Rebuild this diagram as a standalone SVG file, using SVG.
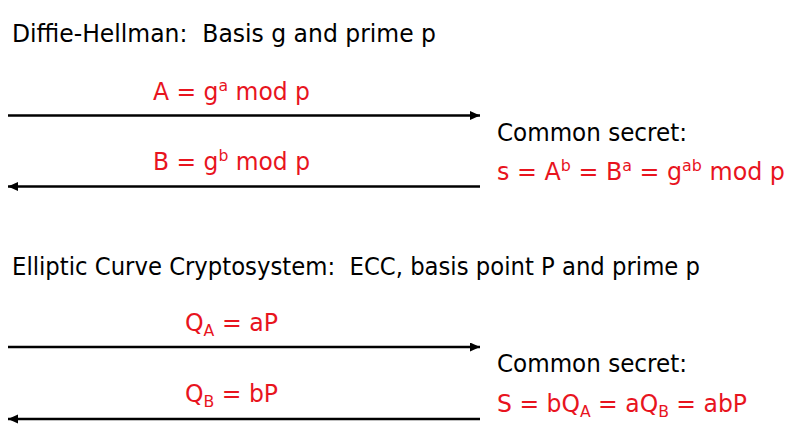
<svg xmlns="http://www.w3.org/2000/svg" width="794" height="435" viewBox="0 0 794 435">
<style>
text{font-family:"DejaVu Sans","Liberation Sans",sans-serif;font-size:24px;}
.k{fill:#000;}
.r{fill:#e8141e;}
.s{font-size:16px;}
.conn{stroke:#000;stroke-width:2.3;fill:none;}
</style>
<defs>
<marker id="ah" markerUnits="userSpaceOnUse" markerWidth="12" markerHeight="10" refX="10" refY="4.5" orient="auto">
<path d="M0,0 L10,4.5 L0,9 Z" fill="#000"/>
</marker>
</defs>
<rect width="794" height="435" fill="#fff"/>
<g id="title-dh"><text class="k" x="12" y="42" textLength="424" lengthAdjust="spacingAndGlyphs" xml:space="preserve">Diffie-Hellman:  Basis g and prime p</text></g>
<g id="label-A"><text class="r" x="153" y="100" textLength="157" lengthAdjust="spacingAndGlyphs">A = g<tspan class="s" dy="-9">a</tspan><tspan dy="9"> mod p</tspan></text></g>
<g id="label-B"><text class="r" x="153" y="170" textLength="157" lengthAdjust="spacingAndGlyphs">B = g<tspan class="s" dy="-9">b</tspan><tspan dy="9"> mod p</tspan></text></g>
<g id="secret-dh">
<text class="k" x="497" y="141" textLength="190" lengthAdjust="spacingAndGlyphs">Common secret:</text>
<text class="r" x="497" y="180" textLength="288" lengthAdjust="spacingAndGlyphs">s = A<tspan class="s" dy="-9">b</tspan><tspan dy="9"> = B</tspan><tspan class="s" dy="-9">a</tspan><tspan dy="9"> = g</tspan><tspan class="s" dy="-9">ab</tspan><tspan dy="9"> mod p</tspan></text>
</g>
<g id="title-ecc"><text class="k" x="12" y="275" textLength="688" lengthAdjust="spacingAndGlyphs" xml:space="preserve">Elliptic Curve Cryptosystem:  ECC, basis point P and prime p</text></g>
<g id="label-QA"><text class="r" x="185" y="331" textLength="93" lengthAdjust="spacingAndGlyphs">Q<tspan class="s" dy="5">A</tspan><tspan dy="-5"> = aP</tspan></text></g>
<g id="label-QB"><text class="r" x="185" y="402" textLength="93" lengthAdjust="spacingAndGlyphs">Q<tspan class="s" dy="5">B</tspan><tspan dy="-5"> = bP</tspan></text></g>
<g id="secret-ecc">
<text class="k" x="497" y="372" textLength="190" lengthAdjust="spacingAndGlyphs">Common secret:</text>
<text class="r" x="497" y="412" textLength="250" lengthAdjust="spacingAndGlyphs">S = bQ<tspan class="s" dy="5">A</tspan><tspan dy="-5"> = aQ</tspan><tspan class="s" dy="5">B</tspan><tspan dy="-5"> = abP</tspan></text>
</g>
<g id="connectors">
<line class="conn" x1="8" y1="115.5" x2="480" y2="115.5" marker-end="url(#ah)"/>
<line class="conn" x1="480" y1="186.5" x2="8" y2="186.5" marker-end="url(#ah)"/>
<line class="conn" x1="8" y1="347" x2="480" y2="347" marker-end="url(#ah)"/>
<line class="conn" x1="480" y1="419" x2="8" y2="419" marker-end="url(#ah)"/>
</g>
</svg>
